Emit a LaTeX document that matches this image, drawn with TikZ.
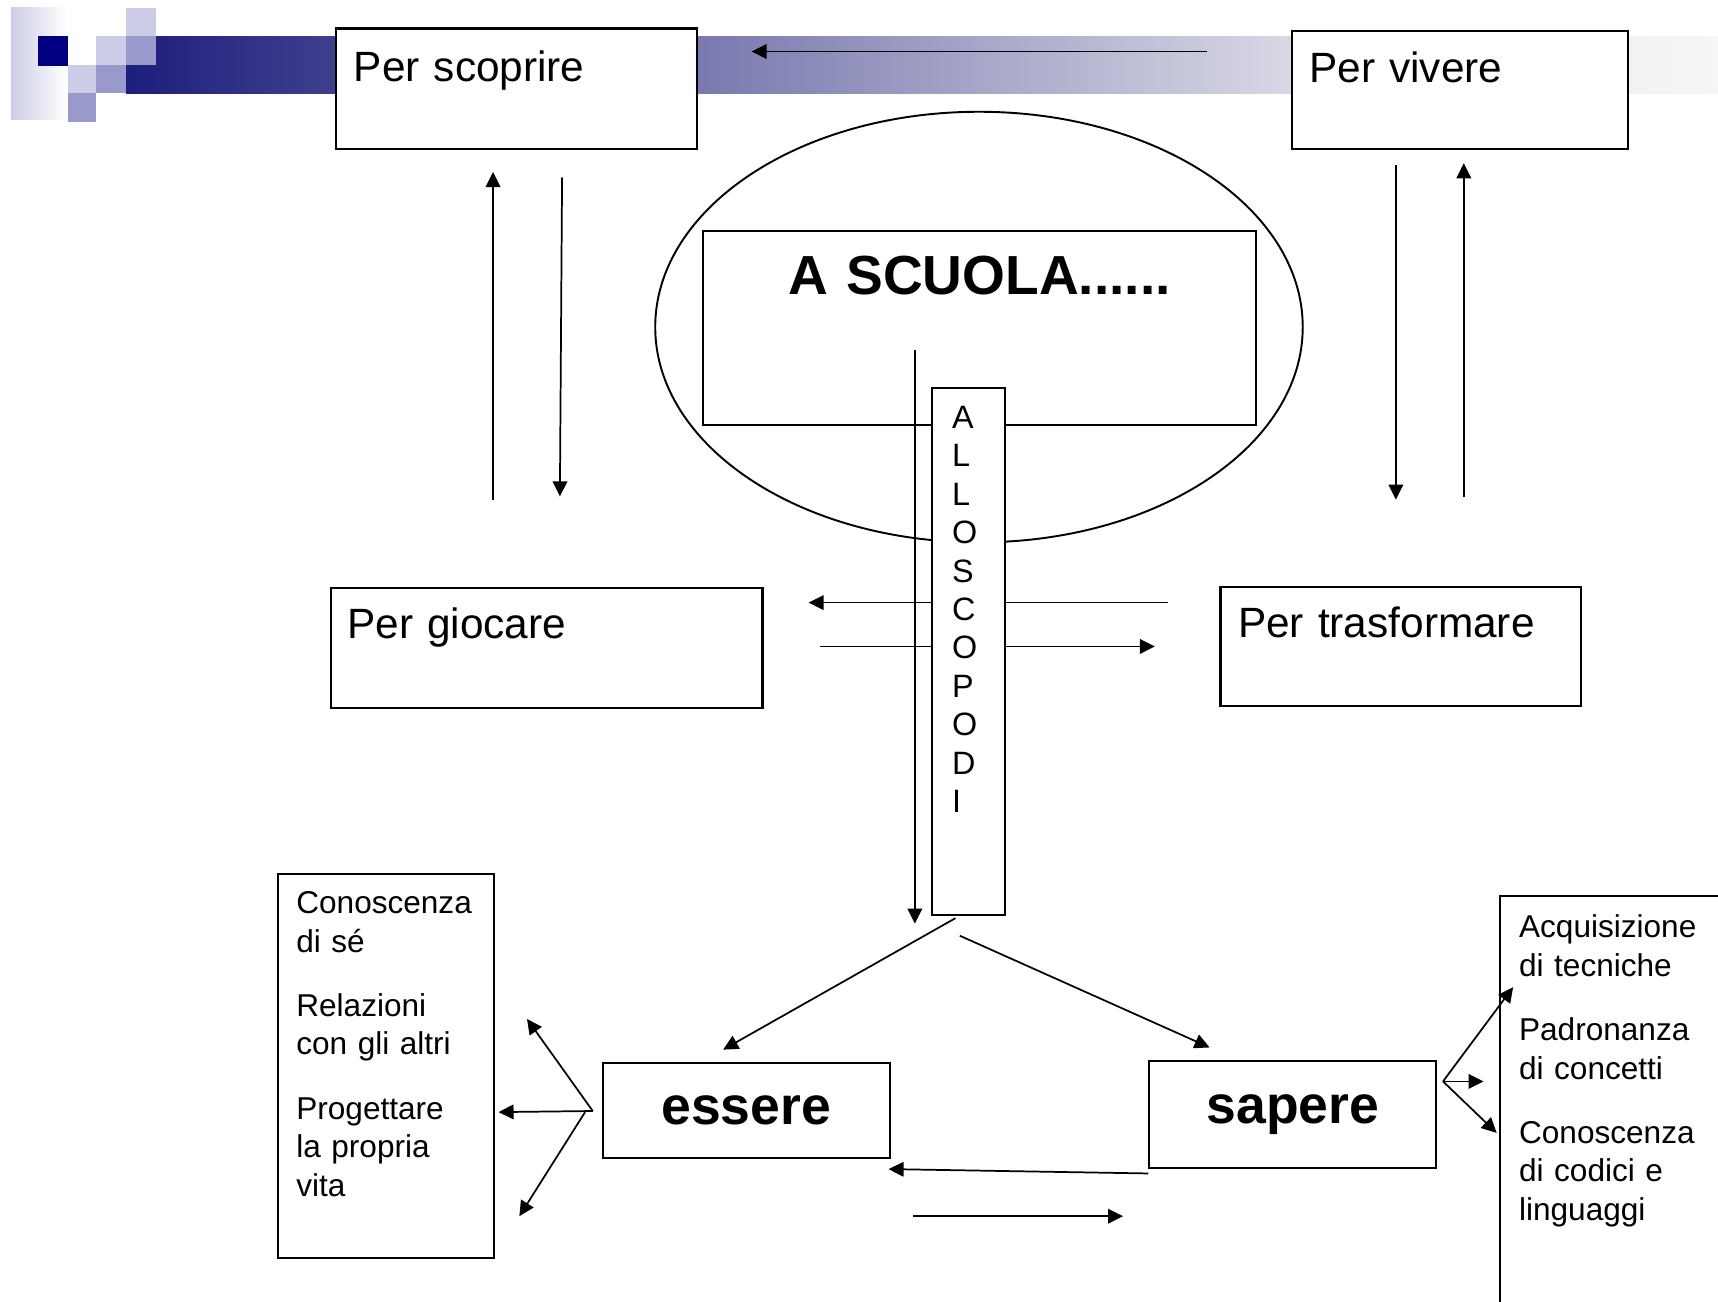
\documentclass[tikz,border=0pt]{standalone}
\usepackage{fontspec}
\setmainfont{Liberation Sans}
\usepackage{tikz}
\usetikzlibrary{arrows.meta, positioning, shapes.geometric}

\definecolor{decoNavy}{HTML}{000080}
\definecolor{decoLight}{HTML}{CCCCE6}
\definecolor{decoMid}{HTML}{9999CC}
\definecolor{barDark}{HTML}{1E1E7C}
\definecolor{barPale}{HTML}{E4E4EC}
\definecolor{barEnd}{HTML}{F6F6F6}
\pgfdeclarehorizontalshading{barshade}{100bp}{color(0bp)=(barDark); color(25bp)=(barDark); color(64bp)=(barPale); color(75bp)=(barEnd); color(100bp)=(barEnd)}

\tikzset{
  box/.style={draw, fill=white, line width=0.55pt, inner ysep=0pt, anchor=north west},
  perbox/.style={box, align=left, inner xsep=1.6mm, font=\fontsize{11}{13}\selectfont},
  listbox/.style={box, align=left, inner xsep=1.65mm, font=\fontsize{8.2}{9.96}\selectfont},
  bigbox/.style={box, inner xsep=0pt, font=\bfseries\fontsize{13.9}{16}\selectfont},
  arr/.style={-{Triangle[length=3.9pt,width=3.8pt]}, line width=0.45pt}
}

\begin{document}
\begin{tikzpicture}[x=0.1mm, y=-0.1mm]
        \useasboundingbox (0,0) rectangle (1568,1188);
        \fill[white] (0,0) rectangle (1568,1188);
        % Decorazione in alto
        \shade[left color=decoLight, middle color=decoLight!75!white, right color=white] (10,7) rectangle (61,109);
        \fill[decoNavy] (35,33) rectangle (62,60);
        \shade[shading=barshade] (115,33) rectangle (1568,85);
        \fill[decoLight] (62,59) rectangle (88,85);
        \fill[decoMid] (62,85) rectangle (88,111);
        \fill[decoLight] (88,33) rectangle (115,59);
        \fill[decoMid] (88,59) rectangle (115,85);
        \fill[decoLight] (115,7) rectangle (142,33);
        \fill[decoMid] (115,33) rectangle (142,59);
        % Ovale
        \node[draw, ellipse, line width=0.5pt, inner sep=0pt, minimum width=59.1mm, minimum height=39.3mm] (ovale) at (893.5,298.5) {};
        % Riquadri
        \node[perbox, text width=29.7mm, text height=4.8mm, text depth=6.2mm] (scoprire) at (306,25) {Per scoprire};
        \node[perbox, text width=27.5mm, text height=4.7mm, text depth=6.1mm] (vivere) at (1178,27) {Per vivere};
        \node[perbox, inner xsep=1.5mm, text width=36.4mm, text height=4.6mm, text depth=6.3mm] (giocare) at (301,536) {Per giocare};
        \node[perbox, text width=29.7mm, text height=4.6mm, text depth=6.2mm] (trasformare) at (1113,535) {Per trasformare};
        \node[bigbox, align=center, text width=50.4mm, text height=5.8mm, text depth=11.9mm, font=\bfseries\fontsize{14.3}{16}\selectfont] (scuola) at (641,210) {A SCUOLA......};
        \node[bigbox, minimum width=26.2mm, minimum height=8.7mm] (essere) at (549,969) {essere};
        \node[bigbox, minimum width=26.2mm, minimum height=9.8mm] (sapere) at (1048,967) {sapere};
        \node[listbox, text width=16.4mm, text height=3.6mm, text depth=31.4mm] (sinistra) at (253,797)
          {Conoscenza\\di sé\\[6.8pt]Relazioni\\con gli altri\\[6.8pt]Progettare\\la propria\\vita};
        \node[listbox, draw=none, text width=16.6mm, text height=3.7mm, text depth=33.3mm] (destra) at (1369,818)
          {Acquisizione\\di tecniche\\[6.8pt]Padronanza\\di concetti\\[6.8pt]Conoscenza\\di codici e\\linguaggi};
        \draw[line width=0.55pt] (destra.south west) -- (destra.north west) -- (destra.north east);
        % Estremi delle frecce
        \coordinate (vivL) at (1102,47);      \coordinate (scoR) at (686,47);
        \coordinate (gioSu0) at (450,456);    \coordinate (gioSu1) at (450,157);
        \coordinate (scoGiu0) at (513,162);   \coordinate (scoGiu1) at (511,453);
        \coordinate (vivGiu0) at (1274,151);  \coordinate (vivGiu1) at (1274,456);
        \coordinate (traSu0) at (1336,454);   \coordinate (traSu1) at (1336,149);
        \coordinate (traL0) at (1066,550);    \coordinate (traL1) at (738,550);
        \coordinate (gioR0) at (748,590);     \coordinate (gioR1) at (1054,590);
        \coordinate (scuGiu0) at (835,319);   \coordinate (scuGiu1) at (835,843);
        \coordinate (essA0) at (872,838);     \coordinate (essA1) at (660,958);
        \coordinate (sapA0) at (876,854);     \coordinate (sapA1) at (1104,956);
        \coordinate (sapB0) at (1048,1071);   \coordinate (essB1) at (811,1067);
        \coordinate (essB0) at (833,1110);    \coordinate (sapB1) at (1025,1110);
        \coordinate (essF) at (541,1014);     \coordinate (essF2) at (534,1015);
        \coordinate (sinA) at (481,930);      \coordinate (sinB) at (455,1015);   \coordinate (sinC) at (474,1110);
        \coordinate (sapF) at (1317,987);
        \coordinate (desA) at (1381,901);     \coordinate (desB) at (1354,987);   \coordinate (desC) at (1366,1034);
        % Frecce
        \draw[arr] (vivL) -- (scoR);
        \draw[arr] (gioSu0) -- (gioSu1);
        \draw[arr] (scoGiu0) -- (scoGiu1);
        \draw[arr] (vivGiu0) -- (vivGiu1);
        \draw[arr] (traSu0) -- (traSu1);
        \draw[arr] (traL0) -- (traL1);
        \draw[arr] (gioR0) -- (gioR1);
        \draw[arr] (scuGiu0) -- (scuGiu1);
        \draw[arr] (essA0) -- (essA1);
        \draw[arr] (sapA0) -- (sapA1);
        \draw[arr] (sapB0) -- (essB1);
        \draw[arr] (essB0) -- (sapB1);
        \draw[arr] (essF) -- (sinA);
        \draw[arr] (essF) -- (sinB);
        \draw[arr] (essF2) -- (sinC);
        \draw[arr] (sapF) -- (desA);
        \draw[arr] (sapF) -- (desB);
        \draw[arr] (sapF) -- (desC);
        % Colonna verticale
        \node[box, align=left, inner xsep=1.8mm, text width=3.0mm, text height=3.7mm, text depth=44.4mm, font=\fontsize{8.4}{9.98}\selectfont] (allo) at (850,353)
          {A\\L\\L\\O\\S\\C\\O\\P\\O\\D\\I};
    \end{tikzpicture}
\end{document}
